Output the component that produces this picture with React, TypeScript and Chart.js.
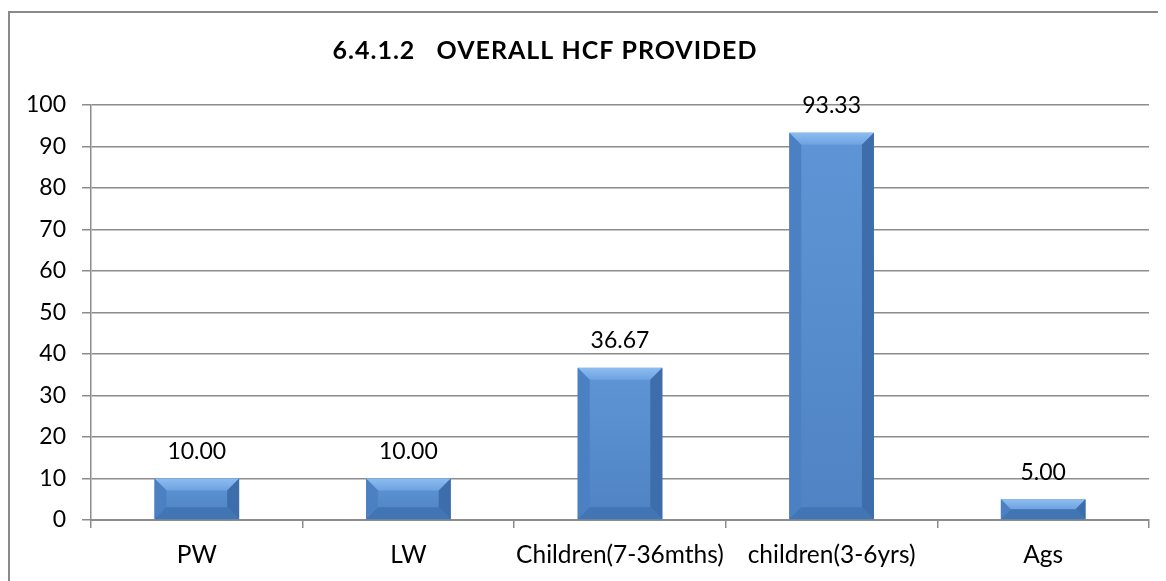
import React, { useEffect, useRef } from "react";
import { Chart, registerables } from "chart.js";

Chart.register(...registerables);

const titleText = "6.4.1.2   OVERALL HCF PROVIDED";
const categories = ["PW", "LW", "Children(7-36mths)", "children(3-6yrs)", "Ags"];
const values = [10.0, 10.0, 36.67, 93.33, 5.0];
const yMin = 0;
const yMax = 100;
const yStep = 10;

const FONT = "Lato, 'Open Sans', sans-serif";
const GRID = "#8c8c8c";

const framePlugin = {
  id: "frame",
  beforeDraw(chart: any) {
    const ctx = chart.ctx;
    ctx.save();
    ctx.fillStyle = "#ffffff";
    ctx.fillRect(0, 0, chart.width, chart.height);
    ctx.fillStyle = "#8a8a8a";
    ctx.fillRect(0, 3, chart.width, 2);
    ctx.fillRect(0, 3, 2, chart.height);
    ctx.restore();
  },
  afterDraw(chart: any) {
    const ctx = chart.ctx;
    ctx.save();
    ctx.fillStyle = "#000";
    ctx.font = `bold 25px ${FONT}`;
    try {
      (ctx as any).letterSpacing = "1px";
    } catch (e) {}
    ctx.textAlign = "center";
    ctx.textBaseline = "middle";
    ctx.fillText(titleText, 537, 43);
    try {
      (ctx as any).letterSpacing = "0px";
    } catch (e) {}
    ctx.restore();
  },
};

const bevelPlugin = {
  id: "bevel",
  afterDatasetsDraw(chart: any) {
    const ctx = chart.ctx;
    const meta = chart.getDatasetMeta(0);
    ctx.save();
    meta.data.forEach((bar: any, i: number) => {
      const left = bar.x - bar.width / 2;
      const right = bar.x + bar.width / 2;
      const top = bar.y;
      const bottom = bar.base;
      const h = bottom - top;
      const w = right - left;
      const b = Math.min(12, h / 2, w / 2);
      const face = ctx.createLinearGradient(0, top, 0, bottom);
      face.addColorStop(0, "#5f95d6");
      face.addColorStop(1, "#4f83c3");
      ctx.fillStyle = face;
      ctx.fillRect(left, top, w, h);
      const poly = (pts: number[][], fill: any) => {
        ctx.beginPath();
        ctx.moveTo(pts[0][0], pts[0][1]);
        for (let k = 1; k < pts.length; k++) ctx.lineTo(pts[k][0], pts[k][1]);
        ctx.closePath();
        ctx.fillStyle = fill;
        ctx.fill();
      };
      const topG = ctx.createLinearGradient(0, top, 0, top + b);
      topG.addColorStop(0, "#8dbcf0");
      topG.addColorStop(1, "#6ea3e0");
      poly([[left, top], [right, top], [right - b, top + b], [left + b, top + b]], topG);
      poly([[left, top], [left + b, top + b], [left + b, bottom - b], [left, bottom]], "#4b80c2");
      poly([[right, top], [right, bottom], [right - b, bottom - b], [right - b, top + b]], "#3d6eab");
      poly([[left, bottom], [left + b, bottom - b], [right - b, bottom - b], [right, bottom]], "#4275b3");
      ctx.fillStyle = "#000";
      ctx.font = `23px ${FONT}`;
      ctx.textAlign = "center";
      ctx.textBaseline = "middle";
      ctx.fillText(values[i].toFixed(2), bar.x, top - 27);
    });
    ctx.restore();
  },
};

export default function App() {
  const ref = useRef<HTMLCanvasElement | null>(null);
  useEffect(() => {
    if (!ref.current) return;
    const chart = new Chart(ref.current, {
      type: "bar",
      data: {
        labels: categories,
        datasets: [
          {
            data: values,
            backgroundColor: "rgba(0,0,0,0)",
            borderWidth: 0,
            barPercentage: 0.4,
            categoryPercentage: 1,
          },
        ],
      },
      options: {
        responsive: false,
        animation: false,
        events: [],
        layout: { padding: { top: 97, right: 17, left: 0, bottom: 0 } },
        plugins: {
          legend: { display: false },
          title: { display: false },
          tooltip: { enabled: false },
        },
        scales: {
          x: {
            afterFit(scale: any) {
              scale.height = 61;
            },
            grid: {
              display: true,
              drawOnChartArea: false,
              drawTicks: true,
              tickLength: 8,
              offset: true,
              color: GRID,
              lineWidth: 1.5,
            },
            border: { display: true, color: GRID, width: 2 },
            ticks: {
              color: "#000",
              font: { family: FONT, size: 24.5 },
              padding: 12,
              maxRotation: 0,
              autoSkip: false,
            },
          },
          y: {
            min: yMin,
            max: yMax,
            afterFit(scale: any) {
              scale.width = 83;
            },
            grid: {
              color: GRID,
              lineWidth: 1.5,
              tickLength: 9,
            },
            border: { display: true, color: GRID, width: 1.5 },
            ticks: {
              stepSize: yStep,
              color: "#000",
              font: { family: FONT, size: 23 },
              padding: 16,
            },
          },
        },
      },
      plugins: [framePlugin, bevelPlugin],
    });
    return () => chart.destroy();
  }, []);
  return (
    <div style={{ width: 1158, height: 573 }}>
      <canvas ref={ref} width={1158} height={573} style={{ display: "block" }} />
    </div>
  );
}
